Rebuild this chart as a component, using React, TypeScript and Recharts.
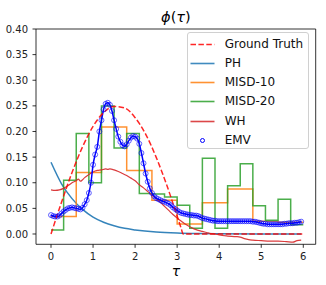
import React from "react";
import { LineChart, Line, XAxis, YAxis, ReferenceArea, Legend } from "recharts";

const xTicks = [0, 1, 2, 3, 4, 5, 6];
const yTicks = [0, 0.05, 0.1, 0.15, 0.2, 0.25, 0.3, 0.35, 0.4];
const X_DOMAIN: [number, number] = [-0.357, 6.295];
const Y_DOMAIN: [number, number] = [-0.0201, 0.4];

// Ground truth
const gtTau = [0, 0.25, 0.5, 0.75, 1, 1.25, 1.5, 1.75, 2, 2.25, 2.5, 2.75, 3, 3.1, 3.14, 6];
const gtValues = [0, 0.062, 0.12, 0.17, 0.21, 0.237, 0.249, 0.246, 0.227, 0.195, 0.15, 0.096, 0.035, 0.01, 0, 0];

// PH
const phTau = [0, 0.25, 0.5, 0.75, 1, 1.25, 1.5, 1.75, 2, 2.5, 3, 3.5, 4, 5, 5.95];
const phValues = [0.14, 0.098, 0.069, 0.048, 0.033, 0.023, 0.016, 0.011, 0.008, 0.004, 0.002, 0.001, 0.0005, 0.0001, 0];

// MISD-10 / MISD-20 step heights, one per bin
const misd10Edges = [0, 0.6, 1.2, 1.8, 2.4, 3.0, 3.6, 4.2, 4.8, 5.4, 6.0];
const misd10Values = [0.034, 0.12, 0.209, 0.124, 0.066, 0.0195, 0.061, 0.088, 0.025, 0.023];

const misd20Edges = [0, 0.3, 0.6, 0.9, 1.2, 1.5, 1.8, 2.1, 2.4, 2.7, 3.0, 3.3, 3.6, 3.9, 4.2, 4.5, 4.8, 5.1, 5.4, 5.7, 6.0];
const misd20Values = [0.008, 0.105, 0.196, 0.1, 0.25, 0.168, 0.196, 0.079, 0.078, 0.072, 0.056, 0.011, 0.148, 0.011, 0.094, 0.137, 0.055, 0.027, 0.068, 0.018];

// WH
const whTau = [0, 0.1, 0.2, 0.3, 0.4, 0.5, 0.6, 0.65, 0.7, 0.75, 0.8, 0.9, 1.0, 1.1, 1.2, 1.3, 1.35, 1.4, 1.5, 1.6, 1.7, 1.8, 1.9, 2.0, 2.1, 2.2, 2.3, 2.4, 2.5, 2.6, 2.7, 2.8, 2.9, 3.0, 3.1, 3.2, 3.3, 3.4, 3.5, 3.6, 3.7, 3.8, 3.9, 4.0, 4.2, 4.4, 4.5, 4.6, 4.7, 4.8, 5.0, 5.2, 5.4, 5.6, 5.75, 5.85, 5.95];
const whValues = [0.086, 0.085, 0.086, 0.089, 0.094, 0.1, 0.104, 0.107, 0.103, 0.106, 0.11, 0.116, 0.121, 0.124, 0.125, 0.127, 0.126, 0.127, 0.125, 0.122, 0.118, 0.114, 0.109, 0.104, 0.096, 0.09, 0.083, 0.076, 0.069, 0.062, 0.054, 0.046, 0.038, 0.031, 0.025, 0.019, 0.014, 0.01, 0.007, 0.005, 0.003, 0.001, 0, -0.002, -0.004, -0.005, -0.006, -0.009, -0.011, -0.012, -0.013, -0.014, -0.014, -0.015, -0.016, -0.013, -0.012];

// EMV, sampled every 0.05 from 0 to 5.95
const emvStep = 0.05;
const emvValues = [
  0.037, 0.035, 0.034, 0.034, 0.036, 0.04, 0.044, 0.047, 0.05, 0.051,
  0.052, 0.051, 0.05, 0.049, 0.048, 0.051, 0.058, 0.066, 0.08, 0.1,
  0.135, 0.155, 0.17, 0.2, 0.222, 0.243, 0.254, 0.256, 0.252, 0.24,
  0.222, 0.205, 0.19, 0.18, 0.173, 0.171, 0.175, 0.182, 0.188, 0.191,
  0.19, 0.186, 0.176, 0.158, 0.138, 0.118, 0.102, 0.089, 0.08, 0.074,
  0.07, 0.068, 0.066, 0.064, 0.063, 0.061, 0.059, 0.056, 0.052, 0.049,
  0.046, 0.043, 0.041, 0.04, 0.039, 0.038, 0.037, 0.037, 0.036, 0.036,
  0.035, 0.033, 0.031, 0.03, 0.029, 0.028, 0.027, 0.026, 0.026, 0.025,
  0.025, 0.025, 0.025, 0.025, 0.025, 0.025, 0.025, 0.025, 0.025, 0.025,
  0.025, 0.025, 0.025, 0.025, 0.025, 0.025, 0.024, 0.024, 0.023, 0.022,
  0.021, 0.02, 0.02, 0.019, 0.019, 0.019, 0.019, 0.019, 0.019, 0.019,
  0.019, 0.02, 0.02, 0.021, 0.021, 0.021, 0.022, 0.022, 0.023, 0.024,
];

const toPoints = (xs: number[], ys: number[]) => xs.map((x, i) => ({ x, y: ys[i] }));

// step series: one point per bin start plus the closing edge
const toSteps = (edges: number[], ys: number[]) =>
  edges.map((x, i) => ({ x, y: ys[Math.min(i, ys.length - 1)] }));

const gtData = toPoints(gtTau, gtValues);
const phData = toPoints(phTau, phValues);
const misd10Data = toSteps(misd10Edges, misd10Values);
const misd20Data = toSteps(misd20Edges, misd20Values);
const whData = toPoints(whTau, whValues);
const emvData = emvValues.map((y, i) => ({ x: +(i * emvStep).toFixed(2), y }));

const FONT = "'DejaVu Sans', sans-serif";

const legendItems = [
  { name: "Ground Truth", color: "#ff0000", dash: "5.5 2.4", kind: "line" },
  { name: "PH", color: "#1f77b4", kind: "line" },
  { name: "MISD-10", color: "#ff7f0e", kind: "line" },
  { name: "MISD-20", color: "#2ca02c", kind: "line" },
  { name: "WH", color: "#d62728", kind: "line" },
  { name: "EMV", color: "#0000ff", kind: "dot" },
];

function LegendBox() {
  return (
    <div
      style={{
        position: "relative",
        width: 122,
        height: 117,
        border: "1px solid #d0d0d0",
        borderRadius: 3,
        background: "rgba(255,255,255,0.8)",
        boxSizing: "border-box",
        fontFamily: FONT,
        fontSize: 12,
        color: "#111",
      }}
    >
      {legendItems.map((item, i) => (
        <div key={item.name} style={{ position: "absolute", left: 0, top: 1.5 + i * 19.2, height: 19, width: 120 }}>
          <svg width={30} height={19} style={{ position: "absolute", left: 0, top: 0 }}>
            {item.kind === "line" ? (
              <line
                x1={2.5}
                x2={26.5}
                y1={9.5}
                y2={9.5}
                stroke={item.color}
                strokeOpacity={0.85}
                strokeWidth={1.6}
                strokeDasharray={item.dash}
              />
            ) : (
              <circle cx={14.5} cy={9.5} r={2} fill="none" stroke={item.color} strokeWidth={1} />
            )}
          </svg>
          <span style={{ position: "absolute", left: 37, top: 2, lineHeight: "15px", whiteSpace: "nowrap" }}>
            {item.name}
          </span>
        </div>
      ))}
    </div>
  );
}

export default function App() {
  return (
    <div style={{ position: "absolute", left: 0, top: 0, width: 326, height: 285, background: "#fff" }}>
      <LineChart width={326} height={285} margin={{ top: 29, right: 10.3, bottom: 0, left: 0 }}>
        <XAxis
          dataKey="x"
          type="number"
          domain={X_DOMAIN}
          ticks={xTicks}
          allowDataOverflow
          height={40.7}
          axisLine={false}
          tickSize={3.5}
          tickMargin={5}
          tickLine={{ stroke: "#000", strokeWidth: 0.8 }}
          tick={{ fill: "#222", fontSize: 10, fontFamily: FONT }}
        />
        <YAxis
          type="number"
          domain={Y_DOMAIN}
          ticks={yTicks}
          allowDataOverflow
          width={36}
          axisLine={false}
          tickSize={3.5}
          tickMargin={4.5}
          tickLine={{ stroke: "#000", strokeWidth: 0.8 }}
          tick={{ fill: "#222", fontSize: 10, fontFamily: FONT }}
          tickFormatter={(v: number) => v.toFixed(2)}
        />
        <Line data={phData} dataKey="y" type="monotone" stroke="#1f77b4" strokeOpacity={0.9} strokeWidth={1.5} dot={false} isAnimationActive={false} />
        <Line data={misd10Data} dataKey="y" type="stepAfter" stroke="#ff7f0e" strokeOpacity={0.85} strokeWidth={1.5} dot={false} isAnimationActive={false} />
        <Line data={misd20Data} dataKey="y" type="stepAfter" stroke="#2ca02c" strokeOpacity={0.85} strokeWidth={1.5} dot={false} isAnimationActive={false} />
        <Line data={whData} dataKey="y" type="monotone" stroke="#d62728" strokeOpacity={0.9} strokeWidth={1.2} dot={false} isAnimationActive={false} />
        <Line
          data={emvData}
          dataKey="y"
          type="monotone"
          stroke="#0000ff"
          strokeWidth={1.5}
          dot={{ r: 2.5, fill: "none", stroke: "#0000ff", strokeOpacity: 0.6, strokeWidth: 1 }}
          isAnimationActive={false}
        />
        <Line data={gtData} dataKey="y" type="monotone" stroke="#ff0000" strokeOpacity={0.85} strokeWidth={1.5} strokeDasharray="5.5 2.4" dot={false} isAnimationActive={false} />
        <ReferenceArea
          x1={X_DOMAIN[0]}
          x2={X_DOMAIN[1]}
          y1={Y_DOMAIN[0]}
          y2={Y_DOMAIN[1]}
          fill="none"
          stroke="#000"
          strokeWidth={0.8}
          ifOverflow="visible"
        />
        <Legend
          layout="vertical"
          align="center"
          verticalAlign="middle"
          wrapperStyle={{ left: 186.7, top: 32.3, width: 122, height: 117 }}
          content={() => <LegendBox />}
        />
      </LineChart>
      <svg width={326} height={285} style={{ position: "absolute", left: 0, top: 0, pointerEvents: "none" }}>
        <text x={175.9} y={22} textAnchor="middle" fontFamily={FONT} fontSize={14.5} fill="#000">
          <tspan fontStyle="italic">ϕ</tspan>(<tspan fontStyle="italic">τ</tspan>)
        </text>
        <text x={175.9} y={276} textAnchor="middle" fontFamily={FONT} fontSize={14} fontStyle="italic" fill="#000">
          τ
        </text>
      </svg>
    </div>
  );
}
